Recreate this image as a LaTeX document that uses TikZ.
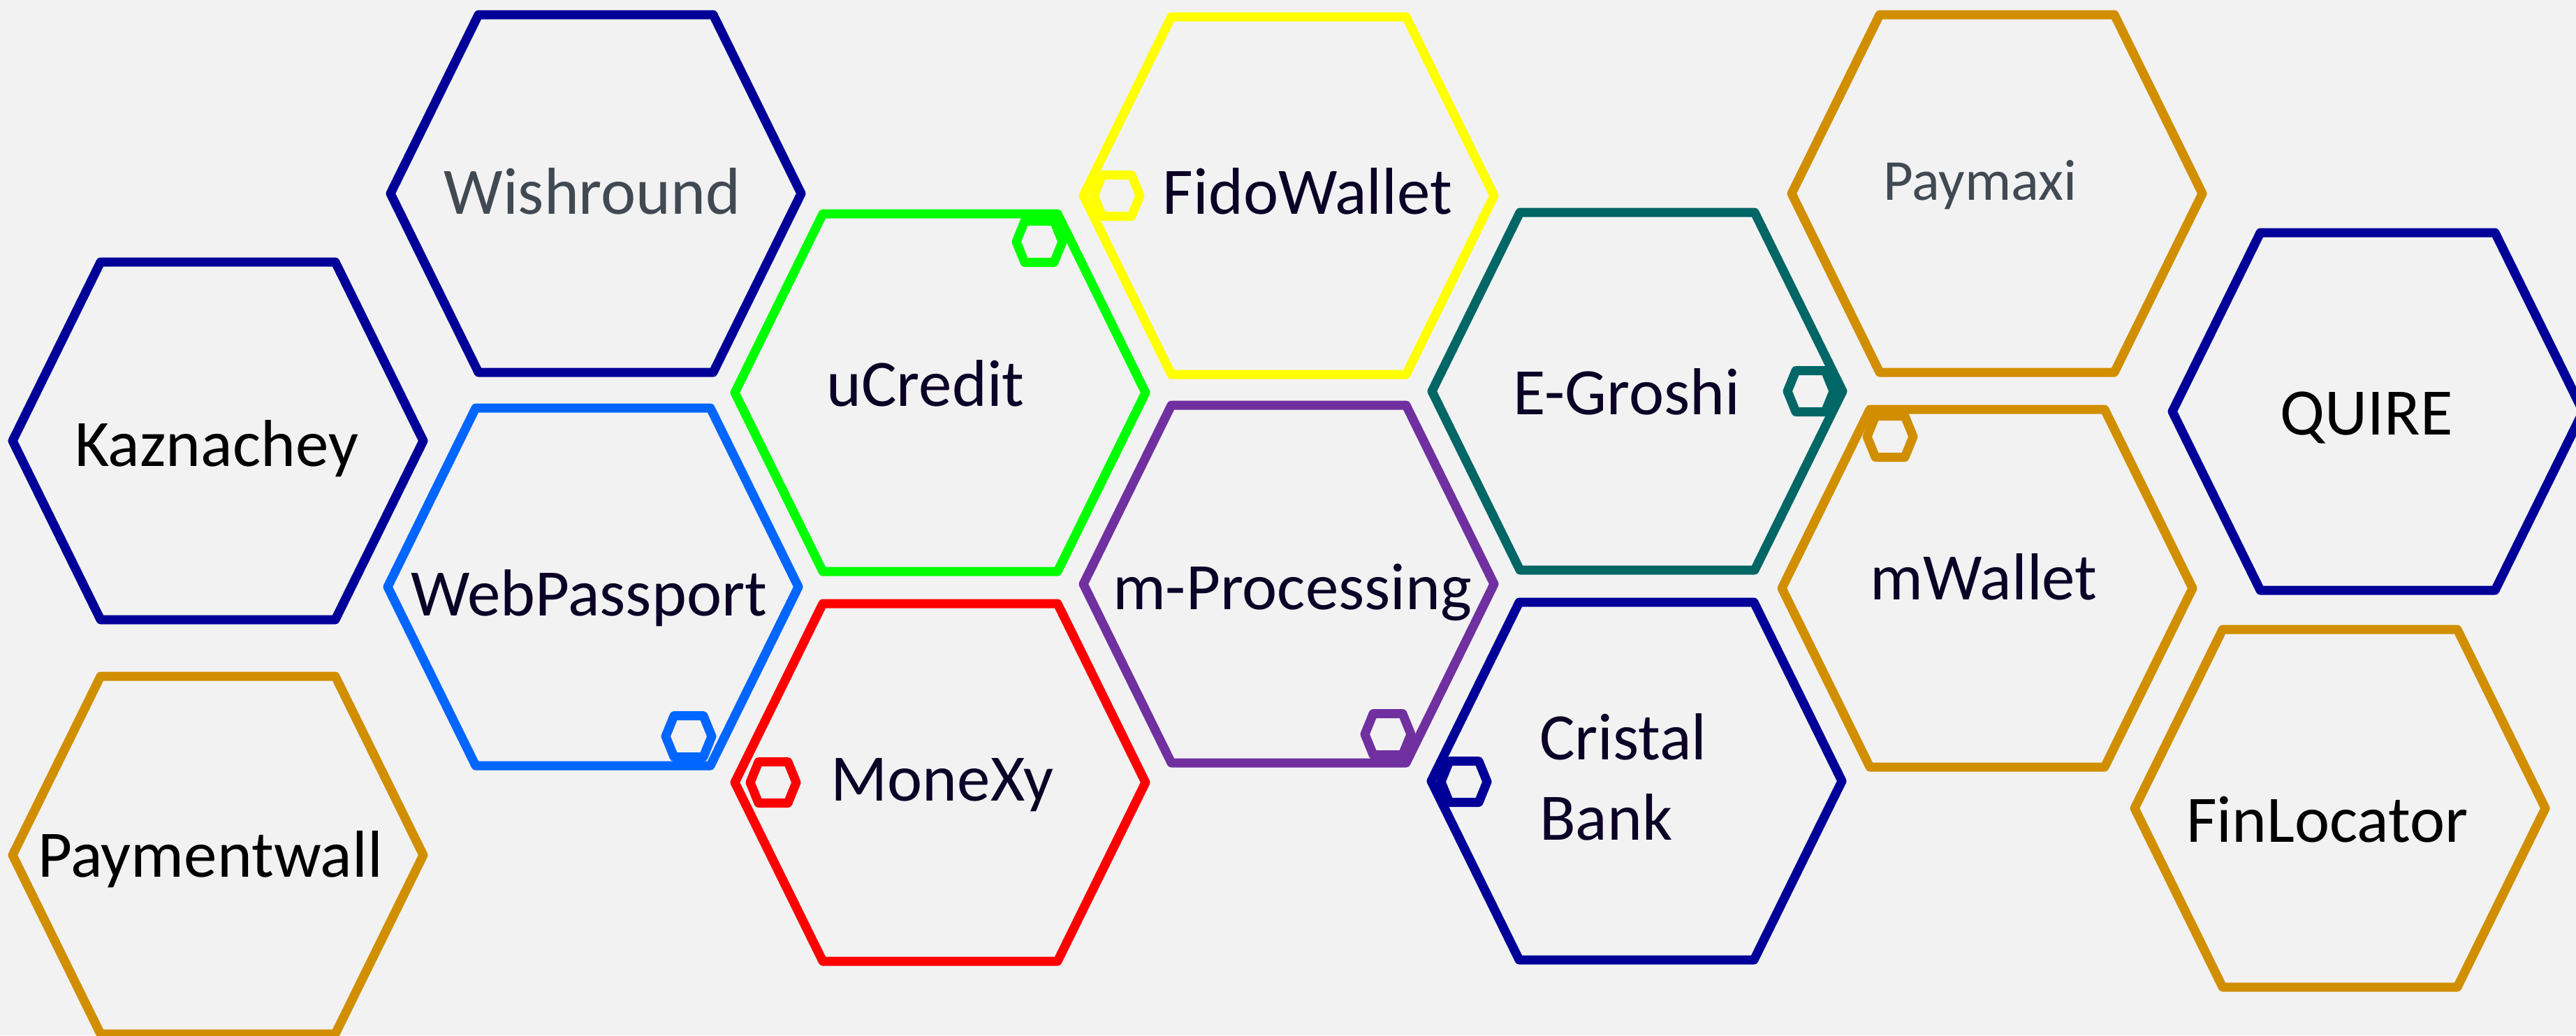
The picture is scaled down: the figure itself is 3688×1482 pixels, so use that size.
\documentclass[tikz,border=0pt]{standalone}
\usepackage{fontspec}
\setmainfont{Carlito}
\definecolor{bgc}{HTML}{F2F2F2}
\definecolor{navyc}{HTML}{000099}
\definecolor{goldc}{HTML}{D18F00}
\definecolor{bluec}{HTML}{0066FF}
\definecolor{greenc}{HTML}{00FF00}
\definecolor{redc}{HTML}{FF0000}
\definecolor{yellowc}{HTML}{FFFF00}
\definecolor{purplec}{HTML}{7030A0}
\definecolor{tealc}{HTML}{006666}
\definecolor{inkc}{HTML}{0B0026}
\definecolor{grayc}{HTML}{414A53}
\begin{document}
\begin{tikzpicture}[x=0.1pt,y=-0.1pt,
  hexline/.style={line width=1.3pt, line join=round},
  bighex/.pic={\draw[hexline] (-294,0) -- (-168,256) -- (168,256) -- (294,0) -- (168,-256) -- (-168,-256) -- cycle;},
  smallhex/.pic={\draw[hexline] (-33,0) -- (-21,29.5) -- (21,29.5) -- (33,0) -- (21,-29.5) -- (-21,-29.5) -- cycle;},
  lbl/.style={anchor=base, inner sep=0pt, font=\fontsize{9.5pt}{11.5pt}\selectfont, text=inkc},
  blk/.style={lbl, text=black},
  gry/.style={lbl, text=grayc}
]
\useasboundingbox (0,0) rectangle (3688,1482);
\fill[bgc] (0,0) rectangle (3688,1482);

% hexagon centres
\coordinate (kazc) at (312,631);
\coordinate (payc) at (312,1224);
\coordinate (wishc) at (853,277);
\coordinate (webc) at (849,840);
\coordinate (ucrc) at (1346,562);
\coordinate (monc) at (1346,1120);
\coordinate (fidoc) at (1845,280);
\coordinate (mprc) at (1845,836);
\coordinate (egrc) at (2344,560);
\coordinate (crisc) at (2343,1118);
\coordinate (pmxc) at (2859,277);
\coordinate (mwalc) at (2845,842);
\coordinate (quirec) at (3404,589);
\coordinate (finc) at (3350,1157);

% small hexagon centres
\coordinate (webs) at (986,1054);
\coordinate (ucrs) at (1488,346);
\coordinate (mons) at (1107,1120);
\coordinate (fidos) at (1599,280);
\coordinate (mprs) at (1987,1051);
\coordinate (egrs) at (2592,560);
\coordinate (criss) at (2096,1119);
\coordinate (mwals) at (2706,625);

% big hexagons
\pic[color=navyc] at (kazc) {bighex};
\pic[color=goldc] at (payc) {bighex};
\pic[color=navyc] at (wishc) {bighex};
\pic[color=bluec] at (webc) {bighex};
\pic[color=greenc] at (ucrc) {bighex};
\pic[color=redc] at (monc) {bighex};
\pic[color=yellowc] at (fidoc) {bighex};
\pic[color=purplec] at (mprc) {bighex};
\pic[color=tealc] at (egrc) {bighex};
\pic[color=navyc] at (crisc) {bighex};
\pic[color=goldc] at (pmxc) {bighex};
\pic[color=goldc] at (mwalc) {bighex};
\pic[color=navyc] at (quirec) {bighex};
\pic[color=goldc] at (finc) {bighex};

% small hexagons
\pic[color=bluec] at (webs) {smallhex};
\pic[color=greenc] at (ucrs) {smallhex};
\pic[color=redc] at (mons) {smallhex};
\pic[color=yellowc] at (fidos) {smallhex};
\pic[color=purplec] at (mprs) {smallhex};
\pic[color=tealc] at (egrs) {smallhex};
\pic[color=navyc] at (criss) {smallhex};
\pic[color=goldc] at (mwals) {smallhex};

% labels
\node[blk] (kaz) at (310,667) {Kaznachey};
\node[blk] (pay) at (301,1255) {Paymentwall};
\node[gry] (wish) at (848,306) {Wishround};
\node[lbl] (web) at (843,881) {WebPassport};
\node[lbl] (ucr) at (1325,581) {uCredit};
\node[lbl] (mon) at (1349,1146) {MoneXy};
\node[lbl] (fido) at (1872,306) {FidoWallet};
\node[lbl] (mpr) at (1850,872) {m-Processing};
\node[lbl] (egr) at (2329,593) {E-Groshi};
\node[lbl, anchor=base west, align=left] (cris) at (2202,1202) {Cristal\\Bank};
\node[gry, font=\fontsize{8.3pt}{10pt}\selectfont] (pmx) at (2835,286) {Paymaxi};
\node[lbl] (mwal) at (2840,858) {mWallet};
\node[blk] (quire) at (3388,622) {QUIRE};
\node[blk] (fin) at (3332,1205) {FinLocator};
\end{tikzpicture}
\end{document}
